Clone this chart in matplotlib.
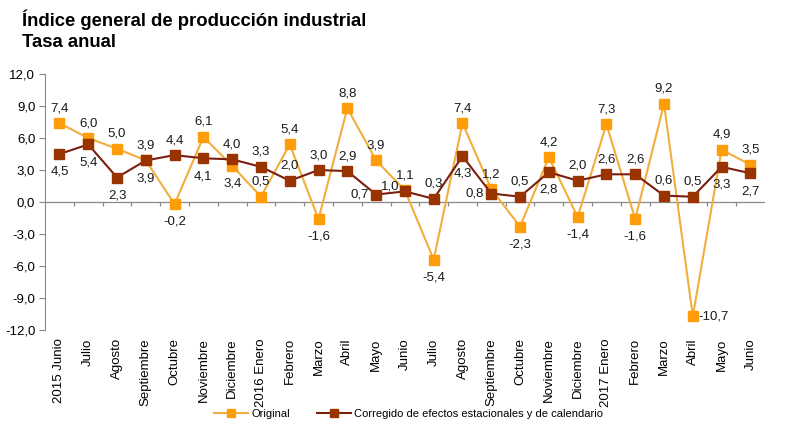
import numpy as np
import matplotlib.pyplot as plt

plt.rcParams['font.family'] = ['Liberation Sans', 'DejaVu Sans']

#Months (x labels)
months = ["2015 Junio", "Julio", "Agosto", "Septiembre", "Octubre", "Noviembre",
          "Diciembre", "2016 Enero", "Febrero", "Marzo", "Abril", "Mayo", "Junio",
          "Julio", "Agosto", "Septiembre", "Octubre", "Noviembre", "Diciembre",
          "2017 Enero", "Febrero", "Marzo", "Abril", "Mayo", "Junio"]

#Annual rates
original = [7.4, 6.0, 5.0, 3.9, -0.2, 6.1, 3.4, 0.5, 5.4, -1.6, 8.8, 3.9, 1.1,
            -5.4, 7.4, 1.2, -2.3, 4.2, -1.4, 7.3, -1.6, 9.2, -10.7, 4.9, 3.5]
corregido = [4.5, 5.4, 2.3, 3.9, 4.4, 4.1, 4.0, 3.3, 2.0, 3.0, 2.9, 0.7, 1.0,
             0.3, 4.3, 0.8, 0.5, 2.8, 2.0, 2.6, 2.6, 0.6, 0.5, 3.3, 2.7]

#Where each value label goes (a=above, b=below, l=left, r=right, al=above left)
pos_original = ["a", "a", "a", "b", "b", "a", "b", "a", "a", "b", "a", "a", "a",
                "b", "a", "a", "b", "a", "b", "a", "b", "a", "r", "a", "a"]
pos_corregido = ["b", "b", "b", "a", "a", "b", "a", "a", "a", "a", "a", "l", "al",
                 "a", "b", "l", "a", "b", "a", "a", "a", "a", "a", "b", "b"]

ORANGE_LINE = "#F2AE3C"
ORANGE_MARK = "#FF9C0A"
RED_LINE = "#7A1E10"
RED_MARK = "#993300"

fig = plt.figure(figsize=(7.86, 4.46), dpi=100)
ax = fig.add_axes([0.0573, 0.260, 0.9157, 0.574])

x = np.arange(len(months))
ax.plot(x, original, color=ORANGE_LINE, lw=1.5, marker="s", ms=7,
        mfc=ORANGE_MARK, mec=ORANGE_MARK, label="Original", zorder=3)
ax.plot(x, corregido, color=RED_LINE, lw=1.5, marker="s", ms=7,
        mfc=RED_MARK, mec=RED_MARK,
        label="Corregido de efectos estacionales y de calendario", zorder=4)

offsets = {"a": ((0, 6.5), "center", "bottom"),
           "b": ((0, -8.5), "center", "top"),
           "l": ((-5, 0), "right", "center"),
           "r": ((4, 0), "left", "center"),
           "al": ((-4, -1), "right", "bottom")}

def label_series(vals, where):
    for i, v in enumerate(vals):
        off, ha, va = offsets[where[i]]
        ax.annotate(f"{v:.1f}".replace(".", ","), (i, v), xytext=off,
                    textcoords="offset points", ha=ha, va=va, fontsize=9.5,
                    color="#1a1a1a", zorder=5)

label_series(original, pos_original)
label_series(corregido, pos_corregido)

ax.set_xlim(-0.5, len(months) - 0.5)
ax.set_ylim(-12, 12)
ax.set_yticks(np.arange(-12, 13, 3))
ax.set_yticklabels([f"{t:.1f}".replace(".", ",") for t in np.arange(-12, 13, 3)],
                   fontsize=9.5)
ax.tick_params(axis="y", length=4, color="#888888", pad=3)

ax.set_xticks(x)
ax.set_xticklabels(months, rotation=90, fontsize=9.5, va="top")
ax.tick_params(axis="x", length=0, pad=6)

for s in ["top", "right", "bottom"]:
    ax.spines[s].set_visible(False)
ax.spines["left"].set_color("#888888")

#Zero line with small ticks between categories
ax.axhline(0, color="#888888", lw=0.9, zorder=1)
ax.vlines(np.arange(0.5, len(months) - 0.5, 1), -0.4, 0, color="#888888", lw=0.9, zorder=1)

fig.text(0.028, 0.955, "Índice general de producción industrial", fontsize=13.3,
         fontweight="bold", va="center")
fig.text(0.028, 0.905, "Tasa anual", fontsize=13.3, fontweight="bold", va="center")

fig.legend(loc="center", bbox_to_anchor=(0.52, 0.072), ncol=2, frameon=False,
           fontsize=8, handlelength=3, columnspacing=2.5, handletextpad=0.3,
           markerscale=0.8)

plt.savefig("out.png", dpi=100)
